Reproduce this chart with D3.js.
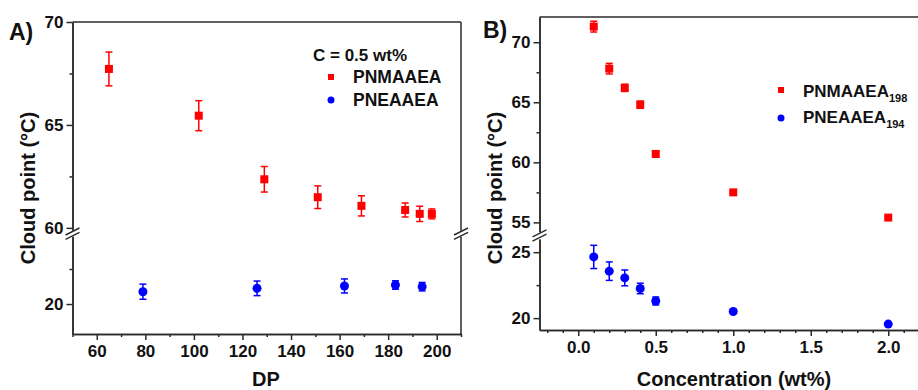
<!DOCTYPE html>
<html>
<head>
<meta charset="utf-8">
<script src="https://cdn.jsdelivr.net/npm/d3@7"></script>
<style>
  body { margin: 0; background: #fff; }
  svg text { font-family: "Liberation Sans", Arial, sans-serif; font-weight: bold; fill: #111; }
</style>
</head>
<body>
<svg id="chart"></svg>
<script>
// panel A: cloud point vs DP, C = 0.5 wt%
const dpRed = [65, 102, 129, 151, 169, 187, 193, 198];
const cpRedA = [67.72, 65.45, 62.36, 61.49, 61.07, 60.87, 60.68, 60.68];
const errRedA = [0.82, 0.73, 0.62, 0.55, 0.49, 0.34, 0.37, 0.24];
const dpBlue = [79, 126, 162, 183, 194];
const cpBlueA = [20.88, 21.12, 21.29, 21.36, 21.24];
const errBlueA = [0.54, 0.52, 0.5, 0.3, 0.3];

// panel B: cloud point vs concentration
const concRed = [0.1, 0.2, 0.3, 0.4, 0.5, 1.0, 2.0];
const cpRedB = [71.3, 67.8, 66.2, 64.8, 60.7, 57.5, 55.4];
const errRedB = [0.45, 0.44, 0.3, 0.3, 0.25, 0.1, 0.1];
const concBlue = [0.1, 0.2, 0.3, 0.4, 0.5, 1.0, 2.0];
const cpBlueB = [24.64, 23.56, 23.05, 22.25, 21.3, 20.5, 19.55];
const errBlueB = [0.88, 0.7, 0.6, 0.4, 0.3, 0.1, 0.1];

// ticks
const xTicksA = [60, 80, 100, 120, 140, 160, 180, 200];
const xMinorA = [50, 70, 90, 110, 130, 150, 170, 190, 210];
const yUpTicksA = [60, 65, 70];
const yUpMinorA = [62.5, 67.5];
const yLoTicksA = [20];
const yLoMinorA = [22.5];
const xTicksB = [0, 0.5, 1.0, 1.5, 2.0];
const xMinorB = [-0.2, -0.1, 0.1, 0.2, 0.3, 0.4, 0.6, 0.7, 0.8, 0.9, 1.1, 1.2, 1.3, 1.4, 1.6, 1.7, 1.8, 1.9, 2.1, 2.2];
const yUpTicksB = [55, 60, 65, 70];
const yUpMinorB = [57.5, 62.5, 67.5];
const yLoTicksB = [20, 25];
const yLoMinorB = [22.5];

const RED = '#ff0000', BLUE = '#0000ff', AXIS = '#2a2a2a';

const svg = d3.select('#chart').attr('width', 918).attr('height', 390);
svg.append('rect').attr('width', 918).attr('height', 390).attr('fill', '#fff');

function styleAxis(g) {
    g.select('.domain').attr('stroke', AXIS).attr('stroke-width', 1.5);
    g.selectAll('.tick line').attr('stroke', AXIS).attr('stroke-width', 1.5);
    g.selectAll('.tick text').attr('font-size', 17).attr('fill', '#111');
}

function drawPanel(p) {
    const g = svg.append('g');
    const [x0, x1] = p.x.range();
    const top = p.yUp.range()[1], upBot = p.yUp.range()[0];
    const loTop = p.yLo.range()[1], bot = p.yLo.range()[0];

    // left axis, two segments
    [[p.yUp, p.upTicks, p.upMinor], [p.yLo, p.loTicks, p.loMinor]].forEach(([y, maj, min]) => {
        g.append('g').attr('transform', `translate(${x0},0)`)
            .call(d3.axisLeft(y).tickValues(min).tickFormat('').tickSize(3).tickSizeOuter(0))
            .call(styleAxis);
        g.append('g').attr('transform', `translate(${x0},0)`)
            .call(d3.axisLeft(y).tickValues(maj).tickFormat(d3.format('d')).tickSize(6).tickPadding(3).tickSizeOuter(0))
            .call(styleAxis);
    });

    // bottom axis
    g.append('g').attr('transform', `translate(0,${bot})`)
        .call(d3.axisBottom(p.x).tickValues(p.xMinor).tickFormat('').tickSize(3).tickSizeOuter(0))
        .call(styleAxis);
    g.append('g').attr('transform', `translate(0,${bot})`)
        .call(d3.axisBottom(p.x).tickValues(p.xTicks).tickFormat(p.xFormat).tickSize(6).tickPadding(5).tickSizeOuter(0))
        .call(styleAxis);

    // top and right frame
    const frame = g.append('g').attr('stroke', AXIS).attr('stroke-width', 1.5).attr('fill', 'none');
    frame.append('line').attr('x1', x0).attr('x2', x1).attr('y1', top).attr('y2', top);
    frame.append('line').attr('x1', x1).attr('x2', x1).attr('y1', top).attr('y2', upBot);
    frame.append('line').attr('x1', x1).attr('x2', x1).attr('y1', loTop).attr('y2', bot);

    // break marks
    const mid = (upBot + loTop) / 2;
    [x0, x1].forEach(cx => {
        frame.append('rect').attr('x', cx - 2).attr('y', mid - 3).attr('width', 4).attr('height', 6)
            .attr('fill', '#fff').attr('stroke', 'none');
        [-2.2, 2.2].forEach(dy => {
            frame.append('line').attr('x1', cx - 7).attr('y1', mid + dy + 3.5)
                .attr('x2', cx + 7).attr('y2', mid + dy - 3.5);
        });
    });

    // series
    p.series.forEach(s => {
        const y = s.seg === 'up' ? p.yUp : p.yLo;
        const data = s.xs.map((v, i) => ({ x: v, y: s.ys[i], e: s.es[i] }));
        const sg = g.append('g').attr('stroke', s.color).attr('fill', s.color);
        const eb = sg.selectAll('g.eb').data(data).join('g').attr('stroke-width', 1.5);
        eb.append('line').attr('x1', d => p.x(d.x)).attr('x2', d => p.x(d.x))
            .attr('y1', d => y(d.y - d.e)).attr('y2', d => y(d.y + d.e));
        [-1, 1].forEach(sgn => {
            eb.append('line').attr('x1', d => p.x(d.x) - 3.5).attr('x2', d => p.x(d.x) + 3.5)
                .attr('y1', d => y(d.y + sgn * d.e)).attr('y2', d => y(d.y + sgn * d.e));
        });
        if (s.shape === 'square') {
            sg.selectAll('rect').data(data).join('rect')
                .attr('x', d => p.x(d.x) - 4).attr('y', d => y(d.y) - 4)
                .attr('width', 8).attr('height', 8).attr('stroke', 'none');
        } else {
            sg.selectAll('circle').data(data).join('circle')
                .attr('cx', d => p.x(d.x)).attr('cy', d => y(d.y)).attr('r', 4.5).attr('stroke', 'none');
        }
    });
    return g;
}

const xA = d3.scaleLinear().domain([50, 210]).range([72.5, 461]);
const yUpA = d3.scaleLinear().domain([59.8, 70]).range([232, 22]);
const yLoA = d3.scaleLinear().domain([17.86, 24.9]).range([334, 235.4]);

drawPanel({
    x: xA, yUp: yUpA, yLo: yLoA,
    xTicks: xTicksA, xMinor: xMinorA, xFormat: d3.format('d'),
    upTicks: yUpTicksA, upMinor: yUpMinorA, loTicks: yLoTicksA, loMinor: yLoMinorA,
    series: [
        { xs: dpRed, ys: cpRedA, es: errRedA, color: RED, shape: 'square', seg: 'up' },
        { xs: dpBlue, ys: cpBlueA, es: errBlueA, color: BLUE, shape: 'circle', seg: 'lo' }
    ]
});

const xB = d3.scaleLinear().domain([-0.25, 2.25]).range([539.5, 927]);
const yUpB = d3.scaleLinear().domain([54.2, 72.1]).range([232, 17]);
const yLoB = d3.scaleLinear().domain([19.1, 26.0]).range([330, 239]);

drawPanel({
    x: xB, yUp: yUpB, yLo: yLoB,
    xTicks: xTicksB, xMinor: xMinorB, xFormat: d3.format('.1f'),
    upTicks: yUpTicksB, upMinor: yUpMinorB, loTicks: yLoTicksB, loMinor: yLoMinorB,
    series: [
        { xs: concRed, ys: cpRedB, es: errRedB, color: RED, shape: 'square', seg: 'up' },
        { xs: concBlue, ys: cpBlueB, es: errBlueB, color: BLUE, shape: 'circle', seg: 'lo' }
    ]
});

// panel letters
svg.append('text').attr('x', 9).attr('y', 40).attr('font-size', 23).text('A)');
svg.append('text').attr('x', 483).attr('y', 38).attr('font-size', 23).text('B)');

// axis titles
svg.append('text').attr('x', 266).attr('y', 386).attr('text-anchor', 'middle').attr('font-size', 20).text('DP');
svg.append('text').attr('x', 734).attr('y', 386).attr('text-anchor', 'middle').attr('font-size', 20).text('Concentration (wt%)');
svg.append('text').attr('transform', 'translate(35,188) rotate(-90)').attr('text-anchor', 'middle')
    .attr('font-size', 20).text('Cloud point (°C)');
svg.append('text').attr('transform', 'translate(502,188) rotate(-90)').attr('text-anchor', 'middle')
    .attr('font-size', 20).text('Cloud point (°C)');

// legend A
svg.append('text').attr('x', 313).attr('y', 61).attr('font-size', 17).text('C = 0.5 wt%');
svg.append('rect').attr('x', 328).attr('y', 74).attr('width', 6).attr('height', 6).attr('fill', RED);
svg.append('circle').attr('cx', 331).attr('cy', 100).attr('r', 3.5).attr('fill', BLUE);
svg.append('text').attr('x', 353).attr('y', 83).attr('font-size', 17.5).text('PNMAAEA');
svg.append('text').attr('x', 353).attr('y', 106).attr('font-size', 17.5).text('PNEAAEA');

// legend B
svg.append('rect').attr('x', 778).attr('y', 87).attr('width', 6).attr('height', 6).attr('fill', RED);
svg.append('circle').attr('cx', 781).attr('cy', 118).attr('r', 3.5).attr('fill', BLUE);
const lb1 = svg.append('text').attr('x', 803).attr('y', 97).attr('font-size', 17);
lb1.append('tspan').text('PNMAAEA');
lb1.append('tspan').attr('font-size', 11).attr('dy', 5).text('198');
const lb2 = svg.append('text').attr('x', 803).attr('y', 123).attr('font-size', 17);
lb2.append('tspan').text('PNEAAEA');
lb2.append('tspan').attr('font-size', 11).attr('dy', 5).text('194');
</script>
</body>
</html>
